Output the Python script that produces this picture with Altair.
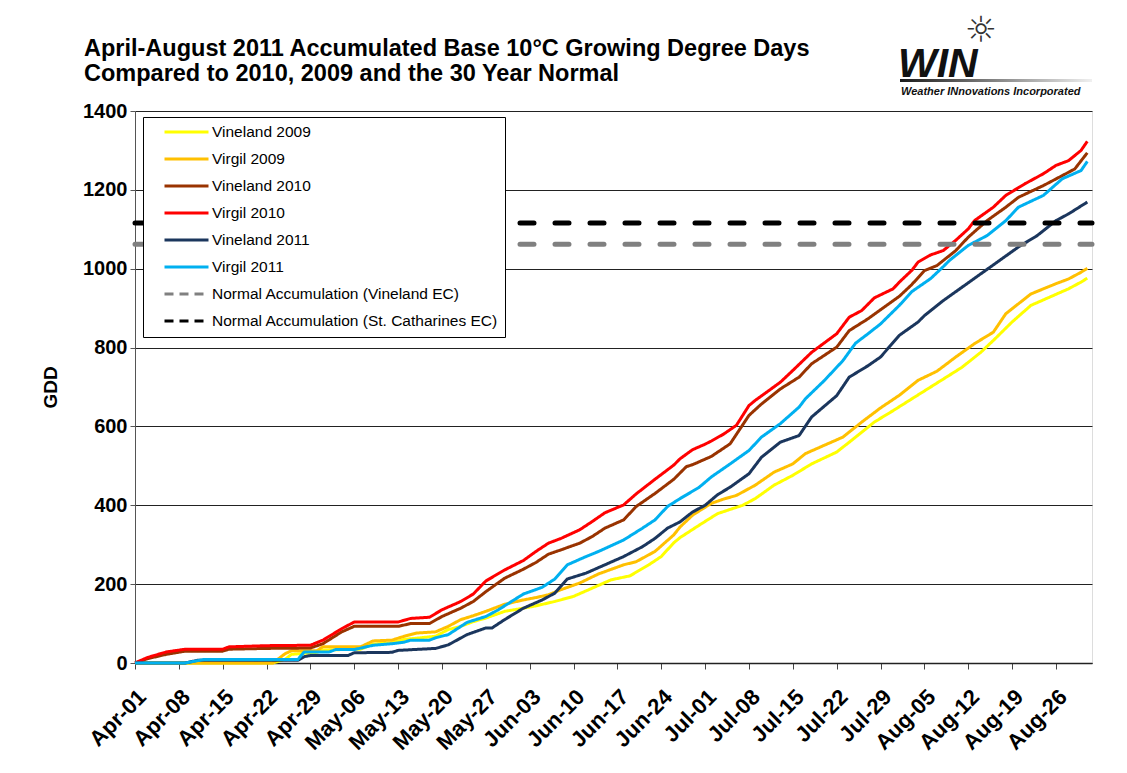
import altair as alt
import pandas as pd

# ---------------- data (day offsets from 2011-04-01, accumulated GDD) ----------------
SERIES = [
    "Vineland 2009", "Virgil 2009", "Vineland 2010", "Virgil 2010",
    "Vineland 2011", "Virgil 2011",
    "Normal Accumulation (Vineland EC)", "Normal Accumulation (St. Catharines EC)",
]
COLORS = ["#FFFF00", "#FFC000", "#993300", "#FF0000", "#1B365D", "#00B0F0", "#808080", "#000000"]

vineland_2009_days = [0, 22, 24, 25, 29, 30, 36, 38, 41, 43, 45, 48, 50, 52, 54, 56, 59, 62, 64, 67,
                      70, 73, 76, 79, 82, 84, 86, 87, 90, 93, 97, 99, 102, 105, 108, 112, 114, 118, 121, 124,
                      126, 128, 132, 135, 137, 140, 143, 146, 149, 151, 152]
vineland_2009_gdd = [0, 0, 10, 22, 27, 33, 35, 48, 51, 60, 63, 68, 85, 93, 105, 114, 131, 139, 145, 156,
                     169, 190, 211, 221, 249, 270, 305, 318, 349, 379, 400, 417, 451, 476, 505, 535, 560, 611, 640, 670,
                     690, 710, 750, 788, 818, 865, 907, 928, 949, 966, 976]

virgil_2009_days = [0, 22, 24, 25, 29, 30, 36, 38, 41, 43, 45, 48, 50, 52, 54, 56, 59, 62, 64, 66,
                    68, 71, 74, 78, 80, 83, 86, 87, 89, 92, 94, 96, 99, 102, 105, 107, 110, 113, 116, 119,
                    122, 125, 128, 131, 134, 137, 139, 141, 143, 147, 149, 151, 152]
virgil_2009_gdd = [0, 0, 24, 31, 31, 41, 41, 56, 58, 68, 76, 79, 93, 110, 120, 131, 149, 160, 166, 173,
                   186, 203, 226, 249, 257, 283, 325, 345, 375, 405, 416, 425, 451, 484, 505, 531, 552, 573, 611, 647,
                   679, 717, 740, 776, 810, 839, 886, 911, 936, 962, 974, 991, 1001]

vineland_2010_days = [0, 2, 5, 8, 14, 15, 21, 28, 30, 33, 35, 42, 44, 47, 49, 52, 54, 56, 59, 62,
                      64, 66, 68, 71, 73, 75, 78, 80, 83, 86, 88, 89, 92, 95, 98, 100, 103, 106, 108, 112,
                      114, 117, 119, 122, 124, 126, 128, 131, 133, 136, 139, 141, 145, 148, 150, 152]
vineland_2010_gdd = [0, 11, 22, 30, 30, 35, 37, 38, 49, 79, 93, 93, 100, 100, 118, 139, 156, 181, 215, 238,
                     255, 276, 287, 304, 321, 342, 363, 397, 430, 466, 498, 503, 524, 556, 628, 657, 695, 725, 759, 801,
                     843, 873, 896, 930, 960, 995, 1008, 1046, 1080, 1122, 1156, 1181, 1211, 1236, 1253, 1294]

virgil_2010_days = [0, 2, 5, 8, 14, 15, 21, 28, 30, 33, 35, 42, 44, 47, 49, 52, 54, 56, 59, 62,
                    64, 66, 68, 71, 73, 75, 78, 80, 83, 86, 87, 89, 91, 92, 94, 96, 98, 99, 103, 105,
                    108, 112, 114, 116, 118, 121, 122, 124, 125, 127, 129, 131, 133, 134, 137, 139, 142, 145, 147, 149,
                    151, 152]
virgil_2010_gdd = [0, 14, 28, 35, 35, 41, 44, 45, 58, 87, 104, 104, 113, 116, 135, 156, 175, 208, 236, 260,
                   283, 304, 316, 338, 359, 381, 401, 429, 466, 502, 518, 541, 555, 563, 581, 603, 653, 666, 712, 742,
                   788, 835, 877, 894, 926, 949, 966, 996, 1017, 1035, 1046, 1072, 1101, 1122, 1156, 1186, 1215, 1241, 1262, 1274,
                   1300, 1323]

vineland_2011_days = [0, 8, 10, 26, 27, 28, 34, 35, 41, 42, 48, 50, 53, 56, 57, 59, 62, 65, 67, 69,
                      72, 75, 78, 81, 83, 85, 87, 89, 91, 93, 95, 98, 100, 103, 106, 108, 112, 114, 117, 119,
                      122, 125, 126, 129, 132, 135, 138, 141, 144, 147, 149, 152]
vineland_2011_gdd = [0, 0, 7, 7, 16, 19, 19, 26, 27, 32, 37, 46, 72, 89, 89, 110, 139, 160, 177, 213,
                     228, 249, 270, 295, 316, 342, 358, 383, 400, 427, 446, 480, 522, 560, 577, 624, 678, 725, 754, 776,
                     831, 865, 881, 919, 953, 987, 1021, 1055, 1084, 1122, 1139, 1169]

virgil_2011_days = [0, 8, 11, 26, 27, 31, 32, 35, 38, 41, 43, 44, 47, 48, 50, 53, 56, 58, 62, 65,
                    67, 69, 72, 74, 78, 81, 83, 85, 87, 90, 92, 95, 98, 100, 103, 106, 107, 110, 113, 115,
                    117, 119, 122, 124, 127, 129, 130, 133, 136, 139, 141, 145, 148, 151, 152]
virgil_2011_gdd = [0, 0, 9, 9, 28, 28, 34, 34, 45, 49, 53, 58, 58, 64, 72, 103, 118, 135, 175, 192,
                   213, 249, 270, 283, 312, 342, 363, 397, 417, 445, 472, 505, 539, 573, 607, 649, 670, 716, 767, 811,
                   835, 860, 907, 942, 975, 1005, 1021, 1059, 1084, 1122, 1156, 1186, 1228, 1249, 1272]

normal_vineland_gdd = 1062
normal_stcatharines_gdd = 1116

season_start = "2011-04-01"
season_end = "2011-08-31T18:00:00"
x_tick_days = [0, 7, 14, 21, 28, 35, 42, 49, 56, 63, 70, 77, 84, 91, 98, 105, 112, 119, 126, 133, 140, 147]
y_ticks = [0, 200, 400, 600, 800, 1000, 1200, 1400]

TITLE = ["April-August 2011 Accumulated Base 10\u00b0C Growing Degree Days",
         "Compared to 2010, 2009 and the 30 Year Normal"]

# ---------------- build tables ----------------
base = pd.Timestamp(season_start)
series_data = [
    (SERIES[0], vineland_2009_days, vineland_2009_gdd),
    (SERIES[1], virgil_2009_days, virgil_2009_gdd),
    (SERIES[2], vineland_2010_days, vineland_2010_gdd),
    (SERIES[3], virgil_2010_days, virgil_2010_gdd),
    (SERIES[4], vineland_2011_days, vineland_2011_gdd),
    (SERIES[5], virgil_2011_days, virgil_2011_gdd),
]
rows = []
for name, days, vals in series_data:
    for d, v in zip(days, vals):
        rows.append({"series": name, "date": base + pd.Timedelta(days=d), "gdd": v})
lines_df = pd.DataFrame(rows)

norm_rows = []
for name, v in [(SERIES[6], normal_vineland_gdd), (SERIES[7], normal_stcatharines_gdd)]:
    norm_rows.append({"series": name, "date": base, "gdd": v})
    norm_rows.append({"series": name, "date": pd.Timestamp(season_end), "gdd": v})
norm_df = pd.DataFrame(norm_rows)

FONT = "Liberation Sans"

tick_dates = []
for d in x_tick_days:
    t = base + pd.Timedelta(days=d)
    tick_dates.append(alt.DateTime(year=t.year, month=t.month, date=t.day))

x_scale = alt.Scale(domain=[alt.DateTime(year=2011, month=4, date=1),
                            alt.DateTime(year=2011, month=8, date=31, hours=18)])
y_scale = alt.Scale(domain=[0, 1400], nice=False)

x_enc = alt.X("date:T", scale=x_scale, axis=alt.Axis(
    values=tick_dates, format="%b-%d", title=None, grid=False,
    labelAngle=-45, labelAlign="right", labelBaseline="middle",
    labelFont=FONT, labelFontSize=22, labelFontWeight="bold", labelColor="black",
    labelPadding=24, labelOffset=7, labelOverlap=False, labelFlush=False,
    tickSize=6, tickColor="#444", domainColor="#222", domainWidth=1.5))
y_enc = alt.Y("gdd:Q", scale=y_scale, axis=alt.Axis(
    values=y_ticks, format="d", title="GDD", titleFont=FONT, titleFontSize=19, titleFontWeight="bold",
    titleColor="black", titlePadding=22,
    labelFont=FONT, labelFontSize=20, labelFontWeight="bold", labelColor="black", labelPadding=3,
    tickSize=5, tickColor="#555", domainColor="#555",
    gridColor="#222", gridWidth=1, gridOpacity=1))

color_scale = alt.Scale(domain=SERIES, range=COLORS)
dash_scale = alt.Scale(domain=SERIES, range=[[1, 0]] * 6 + [[9, 6], [9, 6]])

legend = alt.Legend(
    title=None, orient="none", legendX=8, legendY=6, direction="vertical",
    fillColor="white", strokeColor="black", padding=7,
    symbolType="stroke", symbolSize=1936, symbolStrokeWidth=3,
    clipHeight=16, rowPadding=10, symbolOffset=13, labelOffset=2,
    labelFont=FONT, labelFontSize=15.5, labelColor="black", labelLimit=500,
)

lines = alt.Chart(lines_df).mark_line(strokeWidth=3, strokeJoin="round").encode(
    x=x_enc, y=y_enc,
    color=alt.Color("series:N", scale=color_scale, legend=legend, sort=SERIES),
    strokeDash=alt.StrokeDash("series:N", scale=dash_scale, legend=legend, sort=SERIES),
)

normals = alt.Chart(norm_df).mark_line(strokeWidth=5, strokeCap="round", strokeDash=[14, 21]).encode(
    x="date:T", y="gdd:Q",
    color=alt.Color("series:N", scale=color_scale, legend=legend, sort=SERIES),
)

one = pd.DataFrame([{"k": 1}])
title_text = alt.Chart(one).mark_text(
    text=TITLE, font=FONT, fontSize=23.5, fontWeight="bold", lineHeight=25,
    align="left", baseline="top", color="black").encode(x=alt.value(-51), y=alt.value(-74))
logo_win = alt.Chart(one).mark_text(
    text="WIN", font=FONT, fontSize=41, fontWeight="bold", fontStyle="italic",
    align="left", baseline="alphabetic", color="#111").encode(x=alt.value(763), y=alt.value(-34))
logo_sun = alt.Chart(one).mark_text(
    text="\u263c", font="DejaVu Sans", fontSize=36, align="center", baseline="middle",
    color="#333").encode(x=alt.value(846), y=alt.value(-80))
logo_bar = alt.Chart(one).mark_rect(
    fill=alt.Gradient(gradient="linear", x1=0, x2=1, y1=0, y2=0,
                      stops=[alt.GradientStop(color="#1a1a1a", offset=0),
                             alt.GradientStop(color="#f0f0f0", offset=1)])
).encode(x=alt.value(765), x2=alt.value(957), y=alt.value(-32), y2=alt.value(-29))
logo_sub = alt.Chart(one).mark_text(
    text="Weather INnovations Incorporated", font=FONT, fontSize=11, fontWeight="bold",
    fontStyle="italic", align="left", baseline="alphabetic", color="#111"
).encode(x=alt.value(766), y=alt.value(-16))

chart = alt.layer(lines, normals, logo_bar, logo_sun, logo_win, logo_sub, title_text).properties(
    width=957, height=552,
    padding={"left": 127, "top": 103, "right": 27, "bottom": 105},
    autosize=alt.AutoSizeParams(type="none"),
).configure_view(stroke="#888", strokeWidth=1).configure(background="white")

chart.save("out.html", embed_options={"renderer": "svg", "actions": False})
